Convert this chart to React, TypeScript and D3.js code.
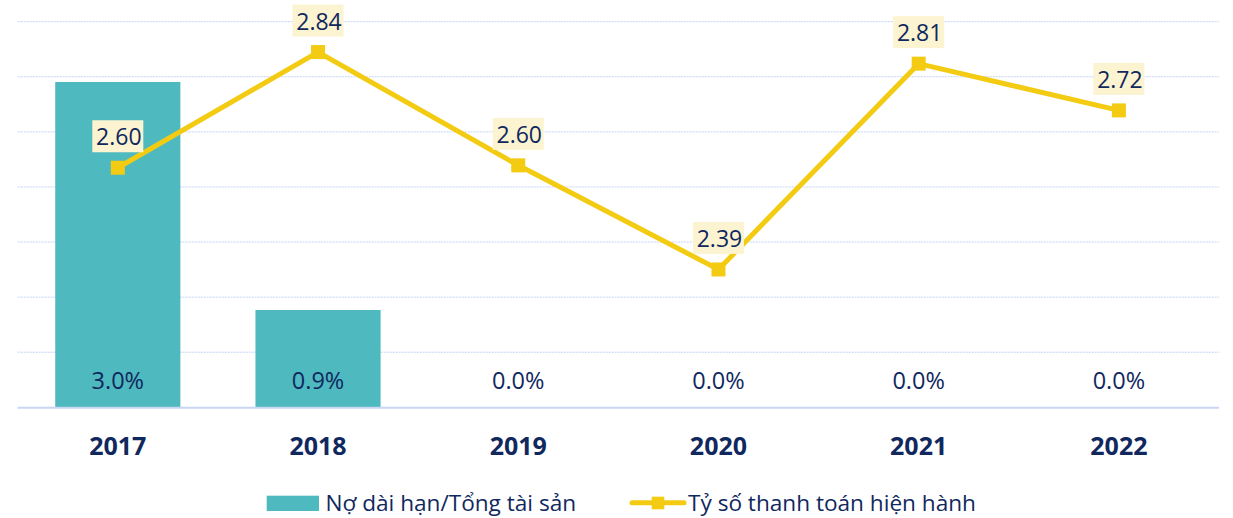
import React from "react";
import * as d3 from "d3";

const years = ["2017", "2018", "2019", "2020", "2021", "2022"];
const debtRatio = [2.953, 0.883, 0, 0, 0, 0]; // %
const currentRatio = [2.597, 2.837, 2.602, 2.386, 2.813, 2.716];
const leftTicks = [0, 0.5, 1, 1.5, 2, 2.5, 3, 3.5];
const legendLabels = ["Nợ dài hạn/Tổng tài sản", "Tỷ số thanh toán hiện hành"];

const W = 1233;
const H = 518;
const FONT = "'Open Sans', 'Noto Sans', sans-serif";
const BAR = "#4EB9BE";
const LINE = "#F3CB12";
const TEXT = "#10285E";
const GRID = "#C3D3F3";
const LABEL_BG = "#FCF4D0";

export default function App() {
  const x = d3
    .scaleBand<string>()
    .domain(years)
    .range([17.7, 1219])
    .paddingInner(0.375)
    .paddingOuter(0.1875);
  const yL = d3.scaleLinear().domain([0, 3.5]).range([407.3, 21.7]);
  const yR = d3.scaleLinear().domain([2.1, 2.9]).range([407.3, 21.7]);
  const cx = (d: string) => (x(d) as number) + x.bandwidth() / 2;
  const line = d3
    .line<number>()
    .x((_, i) => cx(years[i]))
    .y((v) => yR(v));

  return (
    <svg
      width={W}
      height={H}
      style={{ position: "absolute", left: 0, top: 0, background: "#fff" }}
      fontFamily={FONT}
    >
      {/* gridlines */}
      {leftTicks.slice(1).map((t) => (
        <line
          key={t}
          x1={17.7}
          x2={1219}
          y1={yL(t)}
          y2={yL(t)}
          stroke={GRID}
          strokeWidth={1}
          strokeDasharray="2 1"
        />
      ))}
      {/* bars */}
      {years.map((yr, i) => (
        <rect
          key={yr}
          x={x(yr)}
          y={yL(debtRatio[i])}
          width={x.bandwidth()}
          height={yL(0) - yL(debtRatio[i])}
          fill={BAR}
        />
      ))}
      {/* baseline */}
      <line x1={17.7} x2={1219} y1={yL(0) + 0.5} y2={yL(0) + 0.5} stroke="#C8D6F4" strokeWidth={2} />
      {/* bar labels */}
      {years.map((yr, i) => (
        <text
          key={yr}
          x={cx(yr)}
          y={389}
          textAnchor="middle"
          fontSize={23.5}
          fill={TEXT}
        >
          {debtRatio[i].toFixed(1) + "%"}
        </text>
      ))}
      {/* category labels */}
      {years.map((yr) => (
        <text
          key={yr}
          x={cx(yr)}
          y={454.5}
          textAnchor="middle"
          fontSize={25}
          fontWeight="bold"
          fill={TEXT}
        >
          {yr}
        </text>
      ))}
      {/* line */}
      <path d={line(currentRatio) || ""} fill="none" stroke={LINE} strokeWidth={5} strokeLinejoin="miter" />
      {currentRatio.map((v, i) => (
        <rect
          key={i}
          x={cx(years[i]) - 7}
          y={yR(v) - 7}
          width={14}
          height={14}
          fill={LINE}
        />
      ))}
      {/* line labels */}
      {currentRatio.map((v, i) => {
        const px = cx(years[i]);
        const py = yR(v);
        return (
          <g key={i}>
            <rect x={px - 25.5} y={py - 47.5} width={51} height={32} fill={LABEL_BG} />
            <text x={px + 1} y={py - 22.5} textAnchor="middle" fontSize={23} fill={TEXT}>
              {v.toFixed(2)}
            </text>
          </g>
        );
      })}
      {/* legend */}
      <rect x={266.7} y={495.7} width={52.3} height={15.3} fill={BAR} />
      <text x={325.5} y={511} fontSize={22.6} fill={TEXT}>
        {legendLabels[0]}
      </text>
      <line x1={632} x2={684} y1={502.8} y2={502.8} stroke={LINE} strokeWidth={5} strokeLinecap="round" />
      <rect x={651.7} y={496.7} width={12.6} height={12.6} fill={LINE} />
      <text x={688} y={511} fontSize={22.6} fill={TEXT}>
        {legendLabels[1]}
      </text>
    </svg>
  );
}
